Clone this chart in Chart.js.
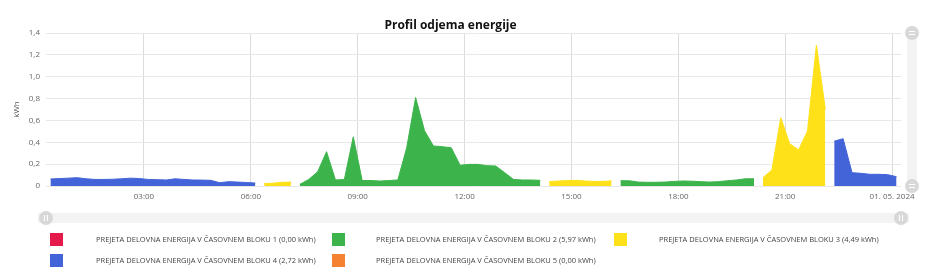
<!DOCTYPE html>
<html>
<head>
<meta charset="utf-8">
<title>Profil odjema energije</title>
<script src="https://cdn.jsdelivr.net/npm/chart.js@4.4.1/dist/chart.umd.min.js"></script>
<style>
  body { margin: 0; background: #fff; }
  #wrap { position: relative; width: 940px; height: 279px; }
  #legend .leg { position: absolute; height: 13px; font: 7.5px 'Open Sans', sans-serif; color: #444; white-space: nowrap; }
  #legend .leg i { position: absolute; left: 0; top: 0; width: 13px; height: 13px; }
  #legend .leg span { position: absolute; top: 0; line-height: 13px; }
</style>
</head>
<body>
<div id="wrap">
  <canvas id="chart" width="940" height="279"></canvas>
  <div id="legend"></div>
</div>
<script>
// Profil odjema energije - 15 min intervals, 30.04.2024

// interval start times
var times = [
  '00:15','00:30','00:45','01:00','01:15','01:30','01:45','02:00',
  '02:15','02:30','02:45','03:00','03:15','03:30','03:45','04:00',
  '04:15','04:30','04:45','05:00','05:15','05:30','05:45','06:00',
  '06:15','06:30','06:45','07:00','07:15','07:30','07:45','08:00',
  '08:15','08:30','08:45','09:00','09:15','09:30','09:45','10:00',
  '10:15','10:30','10:45','11:00','11:15','11:30','11:45','12:00',
  '12:15','12:30','12:45','13:00','13:15','13:30','13:45','14:00',
  '14:15','14:30','14:45','15:00','15:15','15:30','15:45','16:00',
  '16:15','16:30','16:45','17:00','17:15','17:30','17:45','18:00',
  '18:15','18:30','18:45','19:00','19:15','19:30','19:45','20:00',
  '20:15','20:30','20:45','21:00','21:15','21:30','21:45','22:00',
  '22:15','22:30','22:45','23:00','23:15','23:30','23:45','24:00'
];

// kWh per interval
var usage = [
  0.064, 0.068, 0.072, 0.076, 0.066, 0.060, 0.060, 0.062,
  0.066, 0.072, 0.068, 0.060, 0.058, 0.055, 0.066, 0.060,
  0.055, 0.054, 0.052, 0.030, 0.040, 0.036, 0.032, 0.027,
  0.022, 0.026, 0.034, 0.036, 0.015, 0.060, 0.130, 0.314,
  0.055, 0.060, 0.450, 0.050, 0.050, 0.045, 0.050, 0.055,
  0.350, 0.810, 0.506, 0.366, 0.360, 0.350, 0.190, 0.198,
  0.198, 0.186, 0.183, 0.122, 0.060, 0.055, 0.055, 0.052,
  0.040, 0.045, 0.050, 0.052, 0.046, 0.042, 0.042, 0.048,
  0.048, 0.048, 0.036, 0.034, 0.034, 0.036, 0.042, 0.046,
  0.044, 0.040, 0.036, 0.040, 0.048, 0.055, 0.066, 0.066,
  0.076, 0.146, 0.625, 0.387, 0.330, 0.503, 1.290, 0.704,
  0.410, 0.433, 0.122, 0.116, 0.107, 0.107, 0.104, 0.085
];

// tariff block of each interval
var blockOf = [
  4, 4, 4, 4, 4, 4, 4, 4,
  4, 4, 4, 4, 4, 4, 4, 4,
  4, 4, 4, 4, 4, 4, 4, 4,
  3, 3, 3, 3, 2, 2, 2, 2,
  2, 2, 2, 2, 2, 2, 2, 2,
  2, 2, 2, 2, 2, 2, 2, 2,
  2, 2, 2, 2, 2, 2, 2, 2,
  3, 3, 3, 3, 3, 3, 3, 3,
  2, 2, 2, 2, 2, 2, 2, 2,
  2, 2, 2, 2, 2, 2, 2, 2,
  3, 3, 3, 3, 3, 3, 3, 3,
  4, 4, 4, 4, 4, 4, 4, 4
];

var blocks = [1, 2, 3, 4, 5];
var blockTotals = [0.00, 5.97, 4.49, 2.72, 0.00];
var blockColors = ['#e6194b', '#3cb44b', '#ffe119', '#4363d8', '#f58231'];

var tickHours = [3, 6, 9, 12, 15, 18, 21, 24];
var yTicks = [0, 0.2, 0.4, 0.6, 0.8, 1.0, 1.2, 1.4];

function toHours(t) {
  var p = t.split(':');
  return Number(p[0]) + Number(p[1]) / 60;
}

function blockLabel(i) {
  return 'PREJETA DELOVNA ENERGIJA V ČASOVNEM BLOKU ' + blocks[i] +
         ' (' + blockTotals[i].toFixed(2).replace('.', ',') + ' kWh)';
}

// one area series per block, points sit in the middle of their 15 min cell
var datasets = blocks.map(function (b, i) {
  return {
    label: blockLabel(i),
    data: usage.map(function (v, k) {
      return { x: toHours(times[k]) + 0.125, y: blockOf[k] === b ? v : null };
    }),
    borderColor: blockColors[i],
    backgroundColor: blockColors[i],
    borderWidth: 1,
    fill: 'origin',
    pointRadius: 0,
    tension: 0,
    spanGaps: false
  };
});

// scrollbars on the bottom and right side (decoration only)
var scrollbars = {
  id: 'scrollbars',
  afterDraw: function (chart) {
    var ctx = chart.ctx, a = chart.chartArea;
    var hy = 218, vx = a.right + 11;
    ctx.save();
    ctx.fillStyle = '#f3f3f3';
    ctx.fillRect(a.left - 8, hy - 5, a.right - a.left + 16, 10);
    ctx.fillRect(vx - 5, a.top, 10, a.bottom - a.top);

    function grip(x, y, vertical) {
      ctx.fillStyle = '#d8d8d8';
      ctx.beginPath();
      ctx.arc(x, y, 7, 0, Math.PI * 2);
      ctx.fill();
      ctx.strokeStyle = '#ffffff';
      ctx.lineWidth = 1;
      ctx.beginPath();
      if (vertical) {
        ctx.moveTo(x - 1.5, y - 3); ctx.lineTo(x - 1.5, y + 3);
        ctx.moveTo(x + 1.5, y - 3); ctx.lineTo(x + 1.5, y + 3);
      } else {
        ctx.moveTo(x - 3, y - 1.5); ctx.lineTo(x + 3, y - 1.5);
        ctx.moveTo(x - 3, y + 1.5); ctx.lineTo(x + 3, y + 1.5);
      }
      ctx.stroke();
    }
    grip(a.left, hy, true);
    grip(a.right, hy, true);
    grip(vx, a.top, false);
    grip(vx, a.bottom, false);
    ctx.restore();
  }
};

var chart = new Chart(document.getElementById('chart'), {
  type: 'line',
  data: { datasets: datasets },
  plugins: [scrollbars],
  options: {
    responsive: false,
    animation: false,
    devicePixelRatio: 1,
    layout: { padding: { left: 0, right: 39, top: 0, bottom: 68 } },
    plugins: {
      legend: { display: false },
      tooltip: { enabled: false },
      title: {
        display: true,
        text: 'Profil odjema energije',
        color: '#111',
        font: { family: 'Open Sans', size: 12, weight: 'bold' },
        padding: { top: 18, bottom: 0.6 }
      }
    },
    scales: {
      x: {
        type: 'linear',
        min: 0.25,
        max: 24.25,
        afterBuildTicks: function (scale) {
          scale.ticks = tickHours.map(function (h) { return { value: h }; });
        },
        afterFit: function (scale) { scale.height = 25; },
        ticks: {
          color: '#666',
          padding: 6,
          maxRotation: 0,
          font: { family: 'Open Sans', size: 8 },
          callback: function (v) {
            return v === 24 ? '01. 05. 2024' : String(v).padStart(2, '0') + ':00';
          }
        },
        grid: { color: '#dcdcdc', drawTicks: false },
        border: { display: false }
      },
      y: {
        min: 0,
        max: 1.4,
        afterBuildTicks: function (scale) {
          scale.ticks = yTicks.map(function (v) { return { value: v }; });
        },
        afterFit: function (scale) { scale.width = 46; },
        title: {
          display: true,
          text: 'kWh',
          color: '#555',
          font: { family: 'Open Sans', size: 8 },
          padding: { top: 12, bottom: 0 }
        },
        ticks: {
          color: '#666',
          padding: 6,
          font: { family: 'Open Sans', size: 8 },
          callback: function (v) {
            return v === 0 ? '0' : v.toFixed(1).replace('.', ',');
          }
        },
        grid: { color: '#e8e8e8', drawTicks: false },
        border: { display: false }
      }
    }
  }
});

// html legend under the scrollbar
var legendPos = [
  { sq: 50, tx: 96, top: 233 }, { sq: 332, tx: 376, top: 233 }, { sq: 614, tx: 659, top: 233 },
  { sq: 50, tx: 96, top: 254 }, { sq: 332, tx: 376, top: 254 }
];
var legendEl = document.getElementById('legend');
blocks.forEach(function (b, i) {
  var p = legendPos[i];
  var item = document.createElement('div');
  item.className = 'leg';
  item.style.left = p.sq + 'px';
  item.style.top = p.top + 'px';
  item.innerHTML = '<i style="background:' + blockColors[i] + '"></i>' +
                   '<span style="left:' + (p.tx - p.sq) + 'px">' + blockLabel(i) + '</span>';
  legendEl.appendChild(item);
});
</script>
</body>
</html>
